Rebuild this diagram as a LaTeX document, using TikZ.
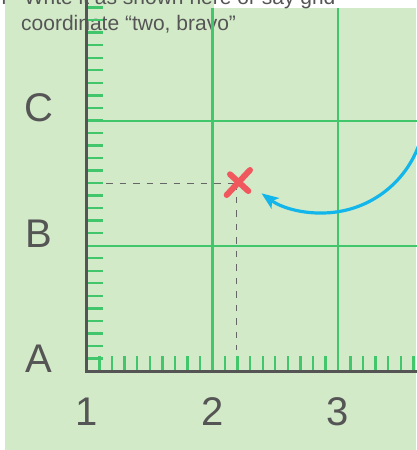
\documentclass[tikz,border=0pt]{standalone}
\usepackage{fontspec}
\setmainfont{Liberation Sans}
\usetikzlibrary{arrows.meta}
\definecolor{bg}{HTML}{D2EAC8}
\definecolor{gridg}{HTML}{42C66C}
\definecolor{axisg}{HTML}{555555}
\definecolor{txt}{HTML}{555555}
\definecolor{xred}{HTML}{F0585E}
\definecolor{arrowb}{HTML}{12B6EA}
\definecolor{dashg}{HTML}{666666}
\begin{document}
\begin{tikzpicture}[x=1pt,y=-1pt,
  gridline/.style={draw=gridg,line width=2.3pt},
  tickline/.style={draw=gridg,line width=2.4pt},
  axisline/.style={draw=axisg,line width=2.8pt},
  guide/.style={draw=dashg,line width=1.4pt,dash pattern=on 6.5pt off 7pt},
  axlabel/.style={text=txt,font=\fontsize{40}{40}\selectfont,inner sep=0pt,anchor=base},
  caption/.style={text=txt,font=\fontsize{21}{27}\selectfont,inner sep=0pt,anchor=base west},
  crossmark/.style={draw=xred,line width=6pt,line cap=round},
  pointer/.style={draw=arrowb,line width=3.2pt,-{Stealth[length=17pt,width=13pt,inset=4pt]}}]
\useasboundingbox (0,0) rectangle (416,450);
\fill[bg] (5,0) rectangle (416,450);
\fill[white] (213.6,0) rectangle (416,8);
% caption text (under the grid)
\node[caption,anchor=base east] (cap0) at (6.5,4) {n};
\node[caption] (cap1) at (24,4) {Write it as shown here or say grid};
\node[caption] (cap2) at (21,30.7) {coordinate “two, bravo”};
% grid
\draw[gridline] (212.5,8) -- (212.5,371);
\draw[gridline] (338,8) -- (338,371);
\draw[gridline] (87,120.7) -- (420,120.7);
\draw[gridline] (87,246) -- (420,246);
% ticks
\foreach \k in {1,...,26} \draw[tickline] (87+12.55*\k,356) -- (87+12.55*\k,371);
\foreach \k in {1,...,29} \draw[tickline] (87,371-12.53*\k) -- (102.7,371-12.53*\k);
% axes
\draw[axisline] (86.7,-3) -- (86.7,371.3) -- (420,371.3);
% labels
\node[axlabel] (lA) at (39,372) {A};
\node[axlabel] (lB) at (39,247.5) {B};
\node[axlabel] (lC) at (39,121) {C};
\node[axlabel] (n1) at (87,425) {1};
\node[axlabel] (n2) at (212.5,425) {2};
\node[axlabel] (n3) at (338,425) {3};
% guides to the point
\coordinate (pt) at (236.7,183.3);
\coordinate (hstart) at (106,183.3);
\coordinate (vend) at (236.7,350);
\draw[guide] (hstart) -- (pt);
\draw[guide] (pt) -- (vend);
% cross
\draw[crossmark] (250,170) -- (226.7,195) (230,174.3) -- (248.3,191);
% arrow
\coordinate (arcstart) at (418.8,145.2);
\draw[pointer] (arcstart) arc[start angle=20,end angle=126,radius=103];
\end{tikzpicture}
\end{document}
